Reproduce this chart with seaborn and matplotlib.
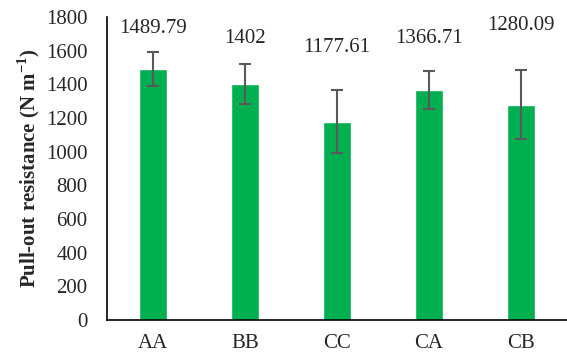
import pandas as pd
import matplotlib
matplotlib.use("Agg")
import matplotlib.pyplot as plt
import seaborn as sns

treatments = ["AA", "BB", "CC", "CA", "CB"]
resistance = [1489.79, 1402, 1177.61, 1366.71, 1280.09]
resistance_err = [100, 121, 186, 114, 207]
value_labels = ["1489.79", "1402", "1177.61", "1366.71", "1280.09"]

# baselines of the hand-placed data labels (data units)
label_y = [1702, 1644, 1594, 1644, 1723]

df = pd.DataFrame({"treatment": treatments, "resistance": resistance})

sns.set_style("white")
plt.rcParams["font.family"] = ["Liberation Serif", "DejaVu Serif"]
plt.rcParams["mathtext.fontset"] = "custom"
plt.rcParams["mathtext.rm"] = "Liberation Serif"
plt.rcParams["mathtext.bf"] = "Liberation Serif:bold"

fig = plt.figure(figsize=(5.67, 3.54), dpi=100)
ax = fig.add_axes([0.1887, 0.096, 0.8113, 0.856])

sns.barplot(data=df, x="treatment", y="resistance", color="#00B050",
            saturation=1, width=0.31, errorbar=None, ax=ax)
ax.errorbar(range(len(treatments)), resistance, yerr=resistance_err,
            fmt="none", ecolor="#595959", elinewidth=1.5, capsize=4.5,
            capthick=1.5)

for i, txt in enumerate(value_labels):
    ax.text(i, label_y[i], txt, ha="center", va="baseline", fontsize=15)

ax.set_ylim(0, 1800)
ax.set_xlim(-0.5, len(treatments) - 0.5)
ax.set_yticks(range(0, 1801, 200))
ax.tick_params(axis="both", length=0, labelsize=15)
ax.tick_params(axis="y", pad=14)
ax.tick_params(axis="x", pad=10)
ax.set_xlabel("")
ax.set_ylabel(r"Pull-out resistance (N m$^{\mathbf{-1}}$)", fontsize=15,
              fontweight="bold")
ax.yaxis.set_label_coords(-0.142, 0.5)

for side in ["top", "right"]:
    ax.spines[side].set_visible(False)
for side in ["left", "bottom"]:
    ax.spines[side].set_color("black")
    ax.spines[side].set_linewidth(1.2)

fig.savefig("out.png", dpi=100)
